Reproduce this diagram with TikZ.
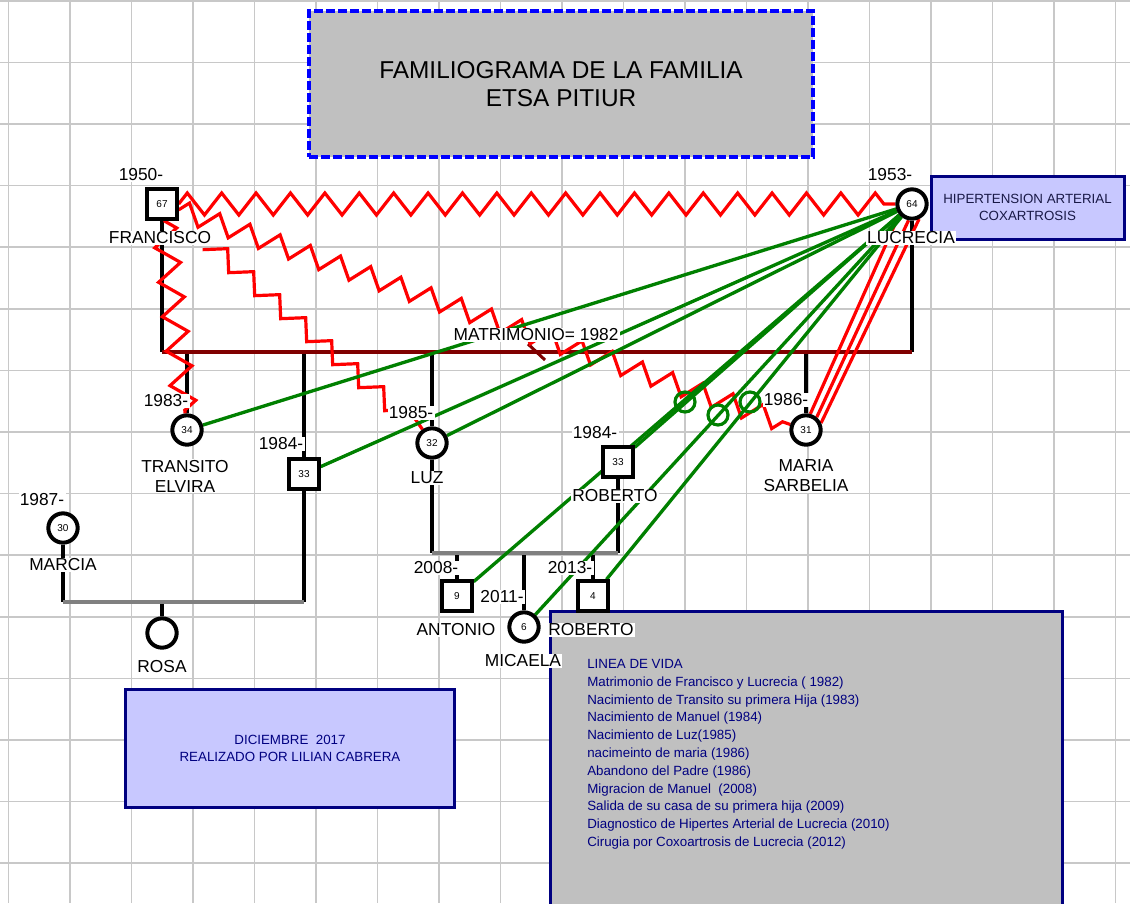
\documentclass[tikz,border=0pt]{standalone}
\usepackage{fontspec}
\setmainfont{Liberation Sans}
\usetikzlibrary{decorations.pathmorphing}
\definecolor{gridgray}{RGB}{200,200,200}
\definecolor{lav}{RGB}{200,200,255}
\definecolor{navyb}{RGB}{0,0,128}
\definecolor{darknavy}{RGB}{25,25,70}
\definecolor{boxgray}{RGB}{192,192,192}
\definecolor{marr}{RGB}{128,0,0}
\definecolor{closegreen}{RGB}{0,128,0}
\pgfdeclarelayer{gridlayer}
\pgfdeclarelayer{linelayer}
\pgfsetlayers{gridlayer,linelayer,main}
\begin{document}
\begin{tikzpicture}[x=0.75pt,y=-0.75pt,font=\fontsize{13}{15}\selectfont,
gridline/.style={gridgray,line width=1.2pt},
male/.style={draw,line width=3pt,minimum size=22pt,inner sep=0pt,fill=white,font=\fontsize{7.5}{8}\selectfont},
female/.style={male,circle},
marker/.style={draw=closegreen,circle,line width=2.4pt,minimum size=15pt,inner sep=0pt},
lbl/.style={fill=white,inner sep=1pt,align=center},
fam/.style={line width=3pt},
union/.style={line width=3pt,gray},
marriage/.style={line width=3pt,marr},
conflict/.style={red,line width=2.4pt},
zz/.style 2 args={conflict,decorate,decoration={zigzag,segment length=#1,amplitude=#2}},
close/.style={closegreen,line width=2.5pt},
infobox/.style={draw=navyb,line width=2.25pt,fill=lav,align=center,text=navyb,font=\fontsize{10}{12.5}\selectfont}]
\begin{pgfonlayer}{gridlayer}
\path[fill=white,use as bounding box] (0,0) rectangle (1130,903);
\foreach \i in {0,...,18} \draw[gridline] (8.5+61.5*\i,0) -- ++(0,903);
\foreach \j in {0,...,14} \draw[gridline] (0,0.8+61.6*\j) -- ++(1130,0);
\node[draw=blue,line width=3pt,dash pattern=on 6.4pt off 2.6pt,fill=boxgray,minimum width=378pt,minimum height=109.5pt,align=center,font=\fontsize{18.3}{20.5}\selectfont] (title) at (561,84) {FAMILIOGRAMA DE LA FAMILIA\\ETSA PITIUR};
\node[infobox,text=darknavy,minimum width=144.75pt,minimum height=47.25pt] (dx) at (1027.5,207.5) {HIPERTENSION ARTERIAL\\COXARTROSIS};
\node[infobox,minimum width=246.75pt,minimum height=88.5pt] (firma) at (290,748.5) {DICIEMBRE\ \ 2017\\REALIZADO POR LILIAN CABRERA};
\node[draw=navyb,line width=2.25pt,fill=boxgray,anchor=north west,minimum width=384pt,minimum height=230pt,inner sep=0pt] (vida) at (549,610) {};
\node[anchor=north west,align=left,inner sep=0pt,text=navyb,font=\fontsize{10}{13.35}\selectfont] (vidatxt) at (587,659) {LINEA DE VIDA\\Matrimonio de Francisco y Lucrecia ( 1982)\\Nacimiento de Transito su primera Hija (1983)\\Nacimiento de Manuel (1984)\\Nacimiento de Luz(1985)\\nacimeinto de maria (1986)\\Abandono del Padre (1986)\\Migracion de Manuel\ \ (2008)\\Salida de su casa de su primera hija (2009)\\Diagnostico de Hipertes Arterial de Lucrecia (2010)\\Cirugia por Coxoartrosis de Lucrecia (2012)};
\end{pgfonlayer}
\node[male] (fran) at (162,204) {67};
\node[female] (luc) at (912,204) {64};
\node[female] (trans) at (187,430) {34};
\node[male] (manuel) at (304,474) {33};
\node[female] (luz) at (432,443) {32};
\node[female] (maria) at (806,430) {31};
\node[female] (marcia) at (63,528) {30};
\node[female] (rosa) at (162,633) {};
\node[male] (rob) at (618,462) {33};
\node[male] (anto) at (457,596) {9};
\node[female] (mica) at (524,627) {6};
\node[male] (robjr) at (593,596) {4};
\coordinate (mL) at (162,352); \coordinate (mR) at (912,352); \coordinate (sep) at (536,352);
\coordinate (mmL) at (63,602); \coordinate (mmR) at (304,602);
\coordinate (lrL) at (432,553); \coordinate (lrR) at (618,553);
\begin{pgfonlayer}{linelayer}
\draw[fam] (fran) -- (mL); \draw[fam] (luc) -- (mR);
\foreach \k in {trans,manuel,luz,maria} \draw[fam] (\k) -- (\k |- mL);
\draw[marriage] (mL) -- (mR);
\draw[marriage,line width=2.25pt] ([shift={(-8,-8)}]sep) -- ([shift={(9,8)}]sep);
\draw[fam] (marcia) -- (mmL); \draw[fam] (manuel) -- (mmR); \draw[fam] (rosa) -- (rosa |- mmL);
\draw[union] (mmL) -- (mmR);
\draw[fam] (luz) -- (lrL); \draw[fam] (rob) -- (lrR);
\foreach \k in {anto,mica,robjr} \draw[fam] (\k) -- (\k |- lrL);
\draw[union] (lrL) -- (lrR);
\draw[zz={25.8pt}{8.25pt}] (fran) -- (luc);
\draw[zz={26pt}{9pt}] (fran) -- (trans);
\draw[zz={24pt}{7.5pt}] (fran) -- (maria);
\draw[conflict] (fran.south east) ++(24,29) \foreach \i in {1,...,7}{ -- ++(25,-1) -- ++(1,24)} -- ++(24,-1) -- (luz);
\draw[conflict] (luc.220) -- (maria.75);
\draw[conflict] (luc.258) -- (maria.50);
\draw[conflict] (luc.295) -- (maria.25);
\foreach \k in {trans,manuel,luz,rob,anto,mica,robjr} \draw[close] (luc) -- (\k);
\end{pgfonlayer}
\node[marker] (mkA) at (685,402) {};
\node[marker] (mkB) at (718,415) {};
\node[marker] (mkC) at (750,402) {};
\node[lbl] (franY) at (141,175) {1950-};
\node[lbl] (franN) at (160,238) {FRANCISCO};
\node[lbl] (lucY) at (890,175) {1953-};
\node[lbl] (lucN) at (911,238) {LUCRECIA};
\node[lbl] (matri) at (536,335) {MATRIMONIO= 1982};
\node[lbl] (transY) at (166,401) {1983-};
\node[lbl] (transN) at (185,476) {TRANSITO\\ELVIRA};
\node[lbl] (manY) at (281,444) {1984-};
\node[lbl] (luzY) at (411,413) {1985-};
\node[lbl] (luzN) at (427,478) {LUZ};
\node[lbl] (mariaY) at (786,400) {1986-};
\node[lbl] (mariaN) at (806,476) {MARIA\\SARBELIA};
\node[lbl] (marciaY) at (42,500) {1987-};
\node[lbl] (marciaN) at (63,565) {MARCIA};
\node[lbl] (rosaN) at (162,667) {ROSA};
\node[lbl] (robY) at (595,433) {1984-};
\node[lbl] (robN) at (615,496) {ROBERTO};
\node[lbl] (antoY) at (436,568) {2008-};
\node[lbl] (antoN) at (456,630) {ANTONIO};
\node[lbl] (micaY) at (502,597) {2011-};
\node[lbl] (micaN) at (523,661) {MICAELA};
\node[lbl] (robjrY) at (570,568) {2013-};
\node[lbl] (robjrN) at (591,630) {ROBERTO};
\end{tikzpicture}
\end{document}
